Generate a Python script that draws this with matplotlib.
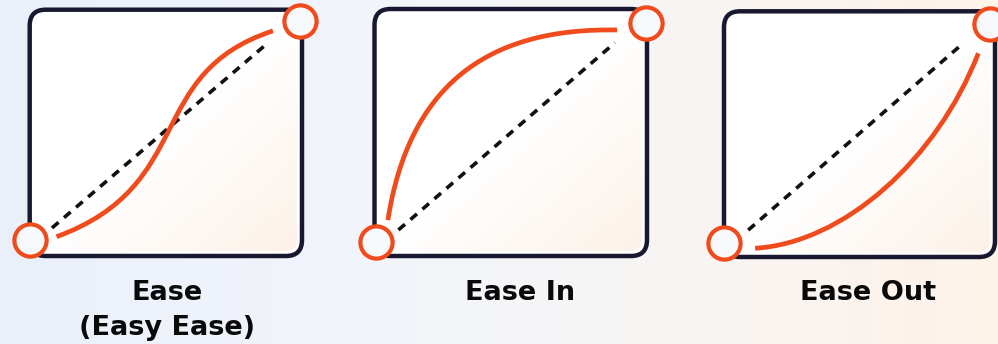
import numpy as np
import matplotlib
matplotlib.use('Agg')
import matplotlib.pyplot as plt
from matplotlib.patches import FancyBboxPatch, PathPatch
from matplotlib.path import Path
from matplotlib.colors import LinearSegmentedColormap

# ---------------- data ----------------
labels = [["Ease", "(Easy Ease)"], ["Ease In"], ["Ease Out"]]
# cubic Bezier control points (keyframes sit at (0,0) and (1,1))
ease_x = [0.10, 0.62, 0.42, 0.90]
ease_y = [0.015, 0.25, 0.76, 0.955]
ease_in_x = [0.044, 0.12, 0.40, 0.893]
ease_in_y = [0.10, 0.70, 0.98, 0.968]
ease_out_x = [0.117, 0.45, 0.80, 0.956]
ease_out_y = [-0.024, 0.0, 0.38, 0.866]
# dashed linear reference segments
lin1_x = [0.083, 0.885]
lin1_y = [0.055, 0.904]
lin2_x = [0.083, 0.885]
lin2_y = [0.055, 0.910]
lin3_x = [0.091, 0.900]
lin3_y = [0.059, 0.913]
# keyframe points
key_x = [0.0, 1.0]
key_y = [0.0, 1.0]

curves = [(ease_x, ease_y), (ease_in_x, ease_in_y), (ease_out_x, ease_out_y)]
lins = [(lin1_x, lin1_y), (lin2_x, lin2_y), (lin3_x, lin3_y)]

# ---------------- layout (pixels) ----------------
W, H, DPI = 998, 344, 100
boxes_px = [(29.7, 302.0, 9.7, 256.0), (374.5, 647.0, 9.0, 256.0), (724.0, 995.0, 11.3, 257.0)]
circles_px = [((29.5, 240.0), (300.0, 21.0)), ((376.0, 242.0), (646.0, 23.0)), ((724.0, 243.0), (990.0, 24.0))]
label_x = [167, 520, 868]
label_base = [300, 335]

ORANGE = '#f04b1c'
NAVY = '#181830'

fig = plt.figure(figsize=(W / DPI, H / DPI), dpi=DPI)

# background gradient
bg = fig.add_axes([0, 0, 1, 1], zorder=0)
bg.set_axis_off()
bg_cmap = LinearSegmentedColormap.from_list('bg', ['#eaf0fb', '#f5f6f9', '#fdf3e9'])
grad = np.linspace(0, 1, 256)[None, :]
bg.imshow(grad, cmap=bg_cmap, aspect='auto', extent=[0, 1, 0, 1])
bg.set_xlim(0, 1); bg.set_ylim(0, 1)

box_cmap = LinearSegmentedColormap.from_list('box', ['#ffffff', '#ffffff', '#fcf1e7'])

for i in range(3):
    L, R, T, B = boxes_px[i]
    (x0, y0), (x1, y1) = circles_px[i]
    ax = fig.add_axes([L / W, 1 - B / H, (R - L) / W, (B - T) / H], zorder=2)
    ax.set_axis_off()
    ax.set_xlim((L - x0) / (x1 - x0), (R - x0) / (x1 - x0))
    ax.set_ylim((y0 - B) / (y0 - y1), (y0 - T) / (y0 - y1))
    bw, bh = R - L, B - T
    r = 16.0 / bw
    box = FancyBboxPatch((0, 0), 1, 1, boxstyle=f"round,pad=0,rounding_size={r}",
                         mutation_aspect=bw / bh, transform=ax.transAxes,
                         facecolor='white', edgecolor='none', linewidth=0,
                         zorder=1, clip_on=False)
    ax.add_patch(box)
    # inner gradient (peach toward lower right)
    gx, gy = np.meshgrid(np.linspace(0, 1, 200), np.linspace(0, 1, 200))
    g = np.clip((gx + gy) / 2.0, 0, 1)
    im = ax.imshow(g, cmap=box_cmap, extent=[0, 1, 0, 1], transform=ax.transAxes,
                   aspect='auto', zorder=1.5, origin='upper')
    im.set_clip_path(box)
    # inner white glow line
    inner = FancyBboxPatch((0.014, 0.015), 0.972, 0.970,
                           boxstyle=f"round,pad=0,rounding_size={r*0.8}",
                           mutation_aspect=bw / bh, transform=ax.transAxes,
                           facecolor='none', edgecolor='#ffffff', linewidth=2.0,
                           zorder=1.6, clip_on=False, alpha=0.9)
    ax.add_patch(inner)
    border = FancyBboxPatch((0, 0), 1, 1, boxstyle=f"round,pad=0,rounding_size={r}",
                            mutation_aspect=bw / bh, transform=ax.transAxes,
                            facecolor='none', edgecolor=NAVY, linewidth=3.2,
                            zorder=1.8, clip_on=False)
    ax.add_patch(border)

    # dashed linear line
    lx, ly = lins[i]
    ax.plot(lx, ly, color='#111111', lw=2.6, linestyle=(0, (2.4, 2.0)),
            dash_capstyle='butt', zorder=3, clip_on=False)
    # easing curve (cubic Bezier)
    cx, cy = curves[i]
    path = Path(list(zip(cx, cy)), [Path.MOVETO, Path.CURVE4, Path.CURVE4, Path.CURVE4])
    ax.add_patch(PathPatch(path, facecolor='none', edgecolor=ORANGE, lw=3.4,
                           capstyle='butt', zorder=4, clip_on=False))
    # keyframes
    ax.plot(key_x, key_y, linestyle='none', marker='o', markersize=23.2,
            markerfacecolor='#f8f9fc', markeredgecolor=ORANGE, markeredgewidth=3.0,
            zorder=5, clip_on=False)

# labels
for i, lab in enumerate(labels):
    for j, line in enumerate(lab):
        fig.text(label_x[i] / W, 1 - label_base[j] / H, line, ha='center', va='baseline',
                 fontsize=19.5, fontweight='bold', family='DejaVu Sans', color='#0a0a0a',
                 zorder=10)

fig.savefig('out.png', dpi=DPI)
